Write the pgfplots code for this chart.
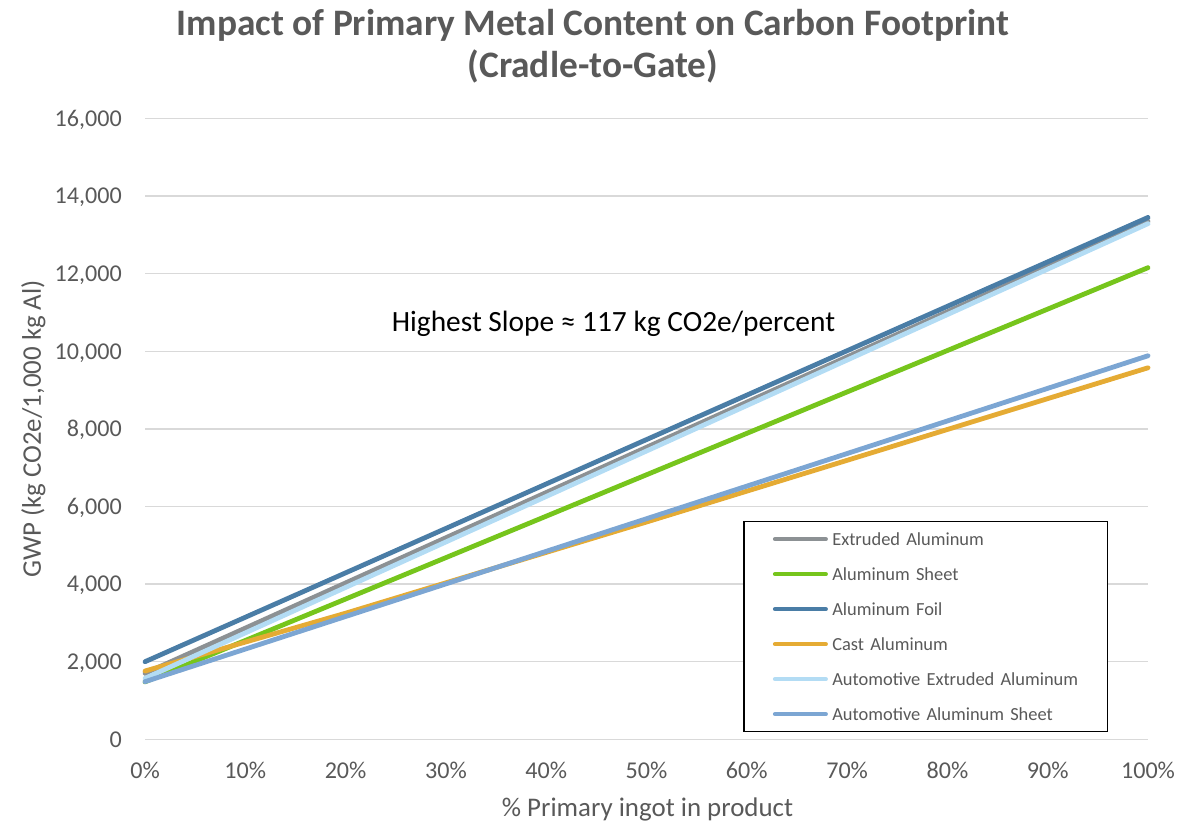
\documentclass[border=0pt]{standalone}
\usepackage{pgfplots}
\pgfplotsset{compat=1.18}
\usepackage{fontspec}
\setmainfont{Carlito}

\definecolor{txtgray}{HTML}{595959}
\definecolor{gridgray}{HTML}{D9D9D9}
\definecolor{cExtruded}{HTML}{8C9194}
\definecolor{cSheet}{HTML}{76C51C}
\definecolor{cFoil}{HTML}{4A7DA6}
\definecolor{cCast}{HTML}{E5AB34}
\definecolor{cAutoExt}{HTML}{B3DCF4}
\definecolor{cAutoSheet}{HTML}{7CA6D3}

\begin{document}
\begin{tikzpicture}
\begin{axis}[
  scale only axis, width=1003bp, height=620.8bp,
  xmin=0, xmax=100, ymin=0, ymax=16000,
  xtick={0,10,...,100},
  ytick={0,2000,...,16000},
  scaled y ticks=false,
  axis line style={draw=none},
  major tick length=0pt,
  ymajorgrids, grid style={color=gridgray, line width=1.3bp},
  clip=false,
  /pgf/number format/assume math mode=true,
  /pgf/number format/1000 sep={,},
  xticklabel={\pgfmathprintnumber{\tick}\%},
  tick label style={text=txtgray, font=\fontsize{24.2}{29}\selectfont},
  xticklabel style={anchor=base, inner sep=0pt, yshift=-39.3bp},
  yticklabel style={anchor=base east, inner sep=0pt, xshift=-23bp, yshift=-7.8bp},
  xlabel={\% Primary ingot in product},
  ylabel={GWP (kg CO2e/1,000 kg Al)},
  label style={text=txtgray, font=\fontsize{27}{32}\selectfont},
  xlabel style={at={(axis description cs:0.501,-0.1236)}, anchor=base, inner sep=0pt},
  ylabel style={at={(axis description cs:-0.1037,0.5)}, anchor=base, inner sep=0pt},
  every axis plot/.append style={line width=4.8bp, line cap=round, line join=round},
  legend image code/.code={%
    \path[draw=none, fill=none] (0bp,0bp) -- (88.4bp,0bp);
    \draw[#1, line width=4bp, line cap=round] (31bp,0bp) -- (82bp,0bp);
  },
  legend cell align=left,
  legend style={
    at={(axis description cs:0.5965,0.3516)}, anchor=north west,
    draw=black, line width=1.2bp, fill=white,
    inner sep=0pt, row sep=0pt, column sep=0pt,
    cells={anchor=west},
    nodes={inner sep=0pt, text height=23.5bp, text depth=11.5bp, text width=275bp},
    font=\fontsize{18.5}{22}\selectfont, text=txtgray,
  },
]

% picture frame and chart title
\path[draw=none] (axis description cs:-0.14457,-0.13483) rectangle (axis description cs:1.04187,1.19088);
\node[anchor=base, text=txtgray, font=\fontsize{37.5}{44}\selectfont\bfseries]
  at (axis description cs:0.44666,1.1332) {Impact of Primary Metal Content on Carbon Footprint};
\node[anchor=base, text=txtgray, font=\fontsize{37.5}{44}\selectfont\bfseries]
  at (axis description cs:0.44666,1.0668) {(Cradle-to-Gate)};

% GWP per 1,000 kg Al versus share of primary ingot
\addplot[cExtruded] coordinates {(0,1700) (100,13350)};
\addlegendentry{Extruded Aluminum}
\addplot[cSheet] coordinates {(0,1480) (100,12155)};
\addlegendentry{Aluminum Sheet}
\addplot[cFoil] coordinates {(0,2000) (100,13450)};
\addlegendentry{Aluminum Foil}
\addplot[cCast] coordinates {(0,1760) (20,3250) (50,5600) (100,9575)};
\addlegendentry{Cast Aluminum}
\addplot[cAutoExt] coordinates {(0,1570) (100,13290)};
\addlegendentry{Automotive Extruded Aluminum}
\addplot[cAutoSheet] coordinates {(0,1485) (100,9885)};
\addlegendentry{Automotive Aluminum Sheet}

\node[anchor=base, text=black, font=\fontsize{29.5}{35}\selectfont] at (axis cs:46.71,10523)
  {Highest Slope ≈ 117 kg CO2e/percent};

\end{axis}
\end{tikzpicture}
\end{document}
